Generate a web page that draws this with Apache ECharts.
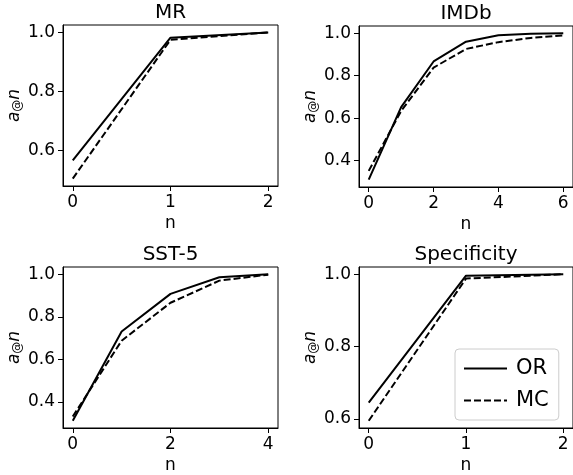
<!DOCTYPE html>
<html>
<head>
    <meta charset="utf-8">
    <title>a@n</title>
    <script src="https://cdn.jsdelivr.net/npm/echarts@6/dist/echarts.min.js"></script>
</head>
<body style="margin:0">
    <div id="main" style="width: 573px; height: 475px;"></div>
    <script>
        // data
        var titles = ['MR', 'IMDb', 'SST-5', 'Specificity']
        var nMR = [0, 1, 2]
        var orMR = [0.567, 0.982, 1.0]
        var mcMR = [0.505, 0.975, 1.0]
        var nIMDb = [0, 1, 2, 3, 4, 5, 6]
        var orIMDb = [0.311, 0.652, 0.867, 0.960, 0.990, 0.997, 1.0]
        var mcIMDb = [0.352, 0.634, 0.838, 0.926, 0.958, 0.978, 0.990]
        var nSST = [0, 1, 2, 3, 4]
        var orSST = [0.312, 0.731, 0.908, 0.986, 1.0]
        var mcSST = [0.332, 0.688, 0.866, 0.970, 0.998]
        var nSpec = [0, 1, 2]
        var orSpec = [0.645, 0.996, 1.0]
        var mcSpec = [0.595, 0.988, 1.0]
        var xTicks = [[0, 1, 2], [0, 2, 4, 6], [0, 2, 4], [0, 1, 2]]
        var yTicks = [[0.6, 0.8, 1.0], [0.4, 0.6, 0.8, 1.0], [0.4, 0.6, 0.8, 1.0], [0.6, 0.8, 1.0]]

        var font = 'DejaVu Sans'
        var chart = echarts.init(document.querySelector('#main'))

        var pairs = function(xs, ys) {
            var out = []
            for (var i = 0; i < xs.length; i++) {
                out.push([xs[i], ys[i]])
            }
            return out
        }

        // grid boxes and axis ranges (matplotlib 5% margins)
        var grids = [
            {left: 63, top: 25, width: 215, height: 161},
            {left: 359, top: 26, width: 214, height: 161},
            {left: 63, top: 267, width: 215, height: 161},
            {left: 359, top: 267, width: 214, height: 161},
        ]
        var xRange = [[-0.1, 2.1], [-0.3, 6.3], [-0.2, 4.2], [-0.1, 2.1]]
        var yRange = [[0.48, 1.025], [0.276, 1.034], [0.278, 1.034], [0.575, 1.02]]
        var ns = [nMR, nIMDb, nSST, nSpec]
        var ors = [orMR, orIMDb, orSST, orSpec]
        var mcs = [mcMR, mcIMDb, mcSST, mcSpec]

        var option = {
            animation: false,
            backgroundColor: '#fff',
            textStyle: {fontFamily: font},
            title: [],
            grid: [],
            xAxis: [],
            yAxis: [],
            series: [],
            legend: {
                data: ['OR', 'MC'],
                orient: 'vertical',
                left: 455,
                top: 349,
                padding: [9, 10, 9, 8],
                itemWidth: 43,
                itemHeight: 14,
                itemGap: 11,
                itemStyle: {opacity: 0},
                borderColor: '#cccccc',
                borderWidth: 1,
                borderRadius: 4,
                textStyle: {fontFamily: font, fontSize: 21, color: '#000', padding: [0, 0, 0, 4]}
            }
        }

        for (var i = 0; i < 4; i++) {
            var g = grids[i]
            option.grid.push({
                left: g.left, top: g.top, width: g.width, height: g.height,
                show: true, borderColor: '#000', borderWidth: 1
            })
            option.title.push({
                text: titles[i],
                left: g.left + g.width / 2,
                top: g.top - 22,
                textAlign: 'center',
                padding: 0,
                textStyle: {fontFamily: font, fontSize: 20, fontWeight: 'normal', color: '#000'}
            })
            option.xAxis.push({
                type: 'value',
                gridIndex: i,
                min: xRange[i][0],
                max: xRange[i][1],
                name: 'n',
                nameLocation: 'middle',
                nameGap: 29,
                nameTextStyle: {fontFamily: font, fontSize: 17, color: '#000'},
                splitLine: {show: false},
                axisLine: {show: true, onZero: false, lineStyle: {color: '#000'}},
                axisTick: {show: true, length: 5, lineStyle: {color: '#000'}, customValues: xTicks[i]},
                axisLabel: {fontFamily: font, fontSize: 17, color: '#000', margin: 8, customValues: xTicks[i]}
            })
            option.yAxis.push({
                type: 'value',
                gridIndex: i,
                min: yRange[i][0],
                max: yRange[i][1],
                name: '{i|a}{s|@}{i|n}',
                nameLocation: 'middle',
                nameRotate: 90,
                nameGap: 37,
                nameTextStyle: {
                    color: '#000',
                    rich: {
                        i: {fontFamily: font, fontSize: 17, fontStyle: 'italic', color: '#000'},
                        s: {fontFamily: font, fontSize: 12, color: '#000', verticalAlign: 'bottom', padding: [7, 0, 0, 0]}
                    }
                },
                splitLine: {show: false},
                axisLine: {show: true, onZero: false, lineStyle: {color: '#000'}},
                axisTick: {show: true, length: 5, lineStyle: {color: '#000'}, customValues: yTicks[i]},
                axisLabel: {
                    fontFamily: font, fontSize: 17, color: '#000', margin: 8,
                    customValues: yTicks[i],
                    formatter: function(v) { return v.toFixed(1) }
                }
            })
            option.series.push({
                name: 'OR', type: 'line', xAxisIndex: i, yAxisIndex: i,
                symbol: 'none', data: pairs(ns[i], ors[i]),
                lineStyle: {color: '#000', width: 2, type: 'solid'},
                itemStyle: {color: '#000'}
            })
            option.series.push({
                name: 'MC', type: 'line', xAxisIndex: i, yAxisIndex: i,
                symbol: 'none', data: pairs(ns[i], mcs[i]),
                lineStyle: {color: '#000', width: 2, type: [7, 3]},
                itemStyle: {color: '#000'}
            })
        }

        chart.setOption(option)
    </script>
</body>
</html>
